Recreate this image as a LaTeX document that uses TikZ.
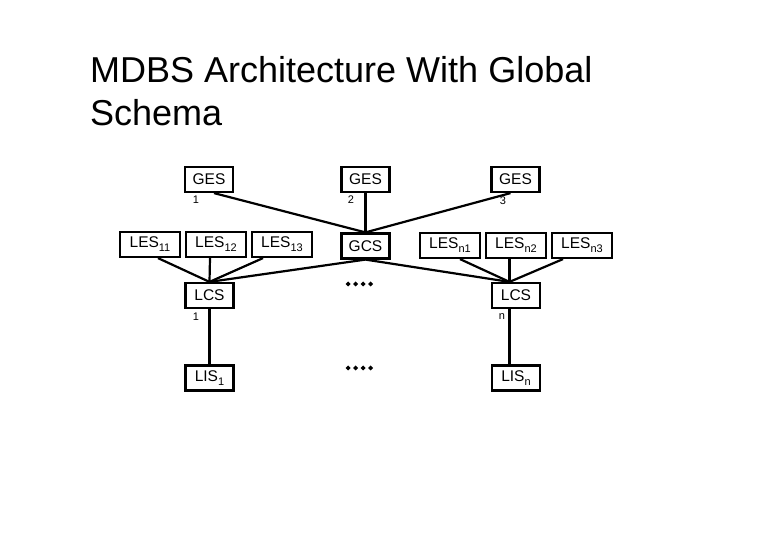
\documentclass[tikz,border=0pt]{standalone}
\usepackage{fontspec}
\setmainfont{Liberation Sans}
\newcommand{\sbs}[1]{\raisebox{-0.5ex}{\fontsize{11}{11}\selectfont #1}}
\begin{document}
\begin{tikzpicture}[x=1pt,y=-1pt,
  box/.style={draw,line width=2.2pt,minimum width=48pt,minimum height=25pt,inner sep=0pt,font=\fontsize{15.5}{15.5}\selectfont},
  lesbox/.style={box,minimum width=60pt},
  lbl/.style={font=\fontsize{11}{11}\selectfont,inner sep=0pt},
  title/.style={anchor=base west,inner sep=0pt,font=\fontsize{36}{36}\selectfont},
  conn/.style={line width=2.2pt}]
\useasboundingbox (0,0) rectangle (780,540);
\node[title] (t1) at (90,83) {MDBS Architecture With Global};
\node[title] (t2) at (90,126) {Schema};
% top row
\node[box] (ges1) at (209,179.5) {GES};
\node[box] (ges2) at (365.5,179.5) {GES};
\node[box] (ges3) at (515.5,179.5) {GES};
\node[lbl] (l1) at (196,200) {1};
\node[lbl] (l2) at (351,200) {2};
\node[lbl] (l3) at (503,201) {3};
% middle row
\node[lesbox] (les11) at (150,244.5) {LES\sbs{11}};
\node[lesbox] (les12) at (216,244.5) {LES\sbs{12}};
\node[lesbox] (les13) at (282,244.5) {LES\sbs{13}};
\node[box] (gcs) at (365.5,246) {GCS};
\node[lesbox] (lesn1) at (450,245.5) {LES\sbs{n1}};
\node[lesbox] (lesn2) at (516,245.5) {LES\sbs{n2}};
\node[lesbox] (lesn3) at (582,245.5) {LES\sbs{n3}};
% LCS row
\node[box] (lcs1) at (209.5,295.5) {LCS};
\node[box] (lcsn) at (516,295.5) {LCS};
\node[lbl] (m1) at (196,317) {1};
\node[lbl] (mn) at (502,317) {n};
% LIS row
\node[box] (lis1) at (209.5,378) {LIS\sbs{1}};
\node[box] (lisn) at (516,378) {LIS\sbs{n}};
\coordinate (cn) at ([xshift=-6.5pt]lcsn.north);
% dots
\foreach \y in {284,368}{
  \foreach \x in {348,355.5,363,370.5}{
    \fill (\x,\y-2.5) -- (\x+2.5,\y) -- (\x,\y+2.5) -- (\x-2.5,\y) -- cycle;
  }
}
% connectors
\draw[conn] ([xshift=5pt]ges1.south) -- (gcs.north);
\draw[conn] (ges2.south) -- (gcs.north);
\draw[conn] ([xshift=-5pt]ges3.south) -- (gcs.north);
\draw[conn] (gcs.south) -- (lcs1.north);
\draw[conn] (gcs.south) -- (cn);
\draw[conn] ([xshift=8pt]les11.south) -- (lcs1.north);
\draw[conn] ([xshift=-6pt]les12.south) -- (lcs1.north);
\draw[conn] ([xshift=-19pt]les13.south) -- (lcs1.north);
\draw[conn] ([xshift=10pt]lesn1.south) -- (cn);
\draw[conn] ([xshift=-6.5pt]lesn2.south) -- (cn);
\draw[conn] ([xshift=-19pt]lesn3.south) -- (cn);
\draw[conn] (lcs1.south) -- (lis1.north);
\draw[conn] ([xshift=-6.5pt]lcsn.south) -- ([xshift=-6.5pt]lisn.north);
\end{tikzpicture}
\end{document}
